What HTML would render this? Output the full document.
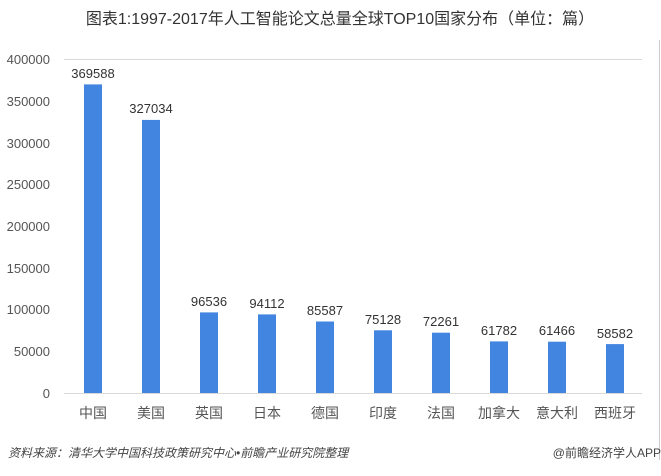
<!DOCTYPE html>
<html><head><meta charset="utf-8"><style>
body{margin:0;background:#fff;width:661px;height:471px;overflow:hidden;font-family:"Liberation Sans","Noto Sans CJK SC",sans-serif}
</style></head><body>
<svg width="661" height="471" xmlns="http://www.w3.org/2000/svg" font-family="Liberation Sans, Noto Sans CJK SC, sans-serif">
<text x="340" y="24" text-anchor="middle" font-size="16" fill="#333">图表1:1997-2017年人工智能论文总量全球TOP10国家分布（单位：篇）</text>
<line x1="659.5" y1="40" x2="659.5" y2="460" stroke="#ccc"/>
<g stroke="#d9d9d9" stroke-width="1">
<line x1="64" y1="59.5" x2="642" y2="59.5"/>
<line x1="64" y1="393.5" x2="642" y2="393.5"/>
</g>
<g font-size="13" fill="#555" text-anchor="end">
<text x="50" y="64">400000</text><text x="50" y="106">350000</text><text x="50" y="148">300000</text><text x="50" y="189">250000</text><text x="50" y="231">200000</text><text x="50" y="273">150000</text><text x="50" y="314">100000</text><text x="50" y="356">50000</text><text x="50" y="398">0</text>
</g>
<g fill="#4285e0">
<rect x="84" y="84.4" width="18" height="308.6"/>
<rect x="142" y="119.9" width="18" height="273.1"/>
<rect x="200" y="312.4" width="18" height="80.6"/>
<rect x="258" y="314.4" width="18" height="78.6"/>
<rect x="316" y="321.5" width="18" height="71.5"/>
<rect x="374" y="330.3" width="18" height="62.7"/>
<rect x="432" y="332.7" width="18" height="60.3"/>
<rect x="490" y="341.4" width="18" height="51.6"/>
<rect x="548" y="341.7" width="18" height="51.3"/>
<rect x="606" y="344.1" width="18" height="48.9"/>
</g>
<g font-size="13" fill="#333" text-anchor="middle">
<text x="93" y="78">369588</text><text x="151" y="113">327034</text><text x="209" y="306">96536</text><text x="267" y="308">94112</text><text x="325" y="315">85587</text><text x="383" y="324">75128</text><text x="441" y="326">72261</text><text x="499" y="335">61782</text><text x="557" y="335">61466</text><text x="615" y="338">58582</text>
</g>
<g font-size="14" fill="#555" text-anchor="middle">
<text x="93" y="418">中国</text><text x="151" y="418">美国</text><text x="209" y="418">英国</text><text x="267" y="418">日本</text><text x="325" y="418">德国</text><text x="383" y="418">印度</text><text x="441" y="418">法国</text><text x="499" y="418">加拿大</text><text x="557" y="418">意大利</text><text x="615" y="418">西班牙</text>
</g>
<text x="8" y="457" font-size="12" font-style="italic" fill="#444">资料来源：清华大学中国科技政策研究中心•前瞻产业研究院整理</text>
<text x="661" y="457" font-size="12" fill="#444" text-anchor="end">@前瞻经济学人APP</text>
</svg>
</body></html>
